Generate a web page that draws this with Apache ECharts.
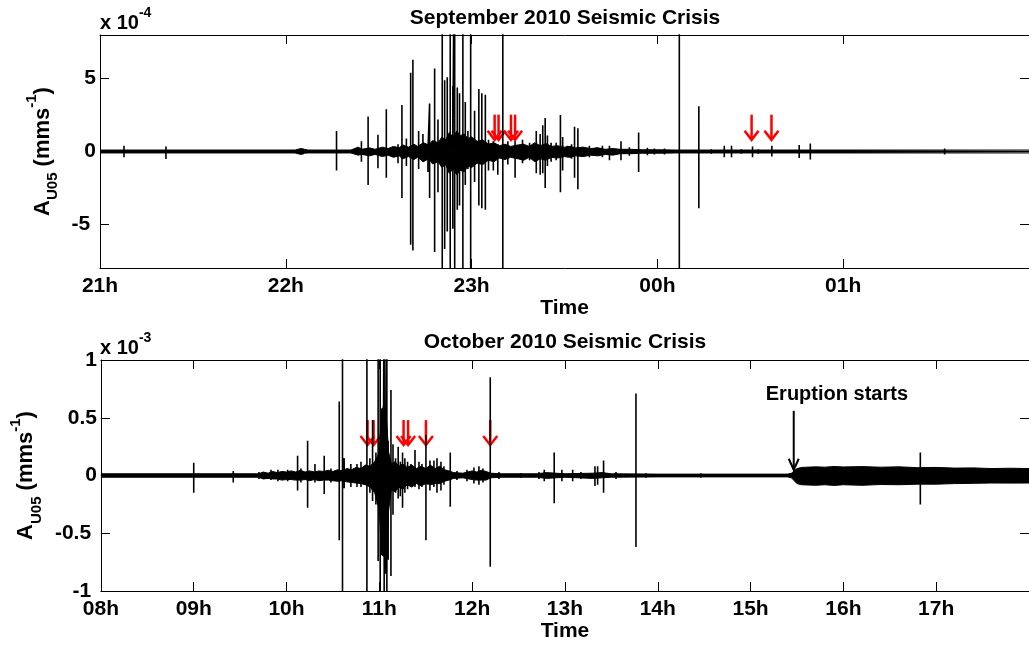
<!DOCTYPE html>
<html><head><meta charset="utf-8">
<script src="https://cdn.jsdelivr.net/npm/echarts@6/dist/echarts.min.js"></script>
<style>html,body{margin:0;padding:0;background:#fff}#c{width:1029px;height:647px}</style>
</head><body><div id="c"></div>
<script>
// ---------- September panel (values in x10^-4 mm/s, time in hours, 24 = 00h) ----------
const sepTickLabels = ['21h','22h','23h','00h','01h','02h'];
const sepT = [21.129,21.355,22.091,22.273,22.407,22.443,22.496,22.541,22.604,22.625,22.649,22.672,22.684,22.715,22.738,22.765,22.774,22.801,22.819,22.842,22.855,22.869,22.885,22.899,22.909,22.923,22.935,22.953,22.966,22.980,22.995,23.016,23.039,23.055,23.074,23.091,23.117,23.141,23.168,23.195,23.234,23.274,23.312,23.348,23.369,23.383,23.396,23.408,23.428,23.455,23.478,23.490,23.516,23.538,23.554,23.572,23.597,23.634,23.672,23.704,23.742,23.804,23.849,23.899,23.946,23.984,24.038,24.118,24.223,24.290,24.360,24.399,24.452,24.512,24.543,24.616,24.763,24.823,25.048,25.546];
const sepUp = [0.4,0.35,0.2,1.4,0.7,2.4,1.15,2.9,0.5,3.2,0.9,5.4,6.3,1.4,1.2,0.5,3.3,5.7,2.2,20,4.9,5.1,20,4.5,20,4.4,4.0,20,3.4,1.4,20,2.8,4.3,4.0,3.9,0.8,0.7,0.5,20,0.7,0.7,0.8,0.6,1.4,1.2,1.8,2.3,1.1,0.6,0.6,2.5,1.0,0.4,0.5,1.7,1.6,0.3,0.4,0.3,0.4,0.4,0.7,0.3,1.3,0.25,0.2,0.2,20,3.1,0.15,0.4,0.4,0.15,0.35,0.15,0.4,0.45,0.55,0.1,0.2];
const sepDown = [0.4,0.52,0.2,1.3,0.7,2.3,1.15,1.8,0.8,3.2,1.0,6.4,6.8,1.2,0.7,1.4,3.2,6.9,2.8,20,6.7,5.5,20,5.3,20,4.0,3.7,20,2.3,1.2,20,2.1,3.7,3.9,4.0,1.3,1.3,1.6,20,0.9,1.8,0.8,0.6,1.5,1.6,1.5,2.5,1.0,0.7,0.6,2.8,1.3,0.4,0.5,1.8,2.6,0.3,0.4,0.3,0.4,0.6,0.6,0.3,1.4,0.25,0.2,0.2,20,3.9,0.15,0.4,0.4,0.15,0.4,0.15,0.35,0.45,0.55,0.1,0.2];
const sepNoiseT = [21.0,22.05,22.08,22.10,22.12,22.35,22.39,22.41,22.45,22.48,22.52,22.55,22.58,22.61,22.63,22.66,22.69,22.71,22.74,22.77,22.79,22.82,22.84,22.86,22.88,22.90,22.92,22.94,22.96,22.98,23.00,23.03,23.06,23.09,23.12,23.15,23.18,23.21,23.25,23.28,23.31,23.34,23.37,23.40,23.43,23.46,23.50,23.53,23.56,23.60,23.64,23.68,23.72,23.76,23.80,23.86,23.92,24.00,24.10,24.50,26.0];
const sepNoiseUp = [0.1,0.1,0.2,0.15,0.1,0.1,0.3,0.15,0.25,0.15,0.3,0.2,0.35,0.25,0.45,0.3,0.5,0.35,0.6,0.45,0.75,0.6,1.0,0.8,1.3,1.0,1.4,1.1,1.2,0.9,1.0,0.7,0.8,0.5,0.6,0.4,0.5,0.35,0.45,0.5,0.35,0.6,0.4,0.55,0.35,0.4,0.3,0.35,0.25,0.3,0.2,0.25,0.15,0.2,0.15,0.15,0.12,0.12,0.1,0.1,0.1];
const sepNoiseDown = [0.1,0.1,0.2,0.12,0.1,0.1,0.25,0.2,0.3,0.2,0.35,0.25,0.4,0.3,0.5,0.35,0.55,0.4,0.7,0.5,0.85,0.7,1.1,0.9,1.5,1.2,1.6,1.3,1.4,1.0,1.1,0.8,0.9,0.6,0.7,0.45,0.55,0.4,0.5,0.6,0.4,0.7,0.5,0.6,0.4,0.45,0.35,0.4,0.3,0.35,0.25,0.3,0.2,0.25,0.15,0.15,0.12,0.12,0.1,0.1,0.1];
const sepArrowT = [23.124,23.145,23.212,23.234,24.507,24.614];
const sepArrowSpan = [2.53, 0.8];   // arrow tail, arrow tip

// ---------- October panel (values in x10^-3 mm/s) ----------
const octTickLabels = ['08h','09h','10h','11h','12h','13h','14h','15h','16h','17h','18h'];
const octT = [9.0,9.426,9.703,9.832,9.907,10.012,10.119,10.155,10.227,10.306,10.406,10.478,10.568,10.603,10.621,10.693,10.759,10.802,10.866,10.898,10.927,10.963,10.987,11.009,11.027,11.043,11.052,11.065,11.081,11.095,11.125,11.147,11.175,11.203,11.226,11.25,11.275,11.304,11.34,11.384,11.427,11.459,11.502,11.545,11.588,11.621,11.664,11.696,11.764,11.836,11.944,12.019,12.073,12.116,12.195,12.289,12.526,12.72,12.777,12.884,12.967,13.083,13.172,13.323,13.352,13.416,13.55,13.765,13.873,14.465,16.829];
const octUp = [0.11,0.04,0.03,0.05,0.05,0.05,0.17,0.06,0.30,0.10,0.17,0.06,0.64,2,0.15,0.1,0.1,0.12,2,0.15,0.48,0.2,2,2,0.58,0.6,2,0.58,2,0.3,0.74,0.27,0.15,0.25,0.12,0.2,0.15,0.12,0.1,0.22,0.12,0.1,0.35,0.13,0.13,0.15,0.12,0.08,0.2,0.04,0.05,0.07,0.08,0.06,0.85,0.03,0.02,0.03,0.05,0.2,0.05,0.05,0.03,0.08,0.08,0.13,0.03,0.71,0.02,0.02,0.2];
const octDown = [0.15,0.06,0.03,0.04,0.05,0.05,0.13,0.06,0.28,0.06,0.16,0.06,0.56,2,0.11,0.1,0.1,0.1,2,0.15,0.22,0.25,0.74,2,0.69,0.7,2,0.85,2,0.73,0.87,0.34,0.15,0.2,0.18,0.28,0.15,0.12,0.1,0.1,0.12,0.1,0.56,0.13,0.1,0.15,0.13,0.08,0.27,0.04,0.05,0.07,0.08,0.06,0.79,0.03,0.02,0.03,0.05,0.24,0.05,0.05,0.03,0.09,0.08,0.15,0.03,0.62,0.02,0.02,0.25];
const octNoiseT = [8.0,9.7,9.75,9.8,9.85,9.9,9.95,10.0,10.05,10.1,10.15,10.2,10.25,10.3,10.35,10.4,10.45,10.5,10.55,10.6,10.65,10.7,10.75,10.8,10.85,10.9,10.95,11.0,11.015,11.03,11.06,11.08,11.1,11.13,11.17,11.21,11.25,11.3,11.35,11.4,11.45,11.5,11.55,11.6,11.65,11.7,11.75,11.8,11.9,12.0,12.05,12.1,12.15,12.2,12.3,12.7,12.8,13.0,13.3,13.4,13.5,14.0,15.4,15.44,15.5,15.55,15.7,15.8,15.9,16.0,16.2,16.4,16.6,16.8,17.0,17.2,17.4,17.6,17.8,18.0];
const octNoiseUp = [0.015,0.015,0.03,0.02,0.035,0.025,0.035,0.03,0.04,0.03,0.045,0.03,0.04,0.03,0.04,0.035,0.045,0.035,0.05,0.04,0.06,0.05,0.07,0.06,0.09,0.08,0.12,0.2,0.45,0.58,0.58,0.45,0.2,0.1,0.12,0.08,0.1,0.07,0.09,0.06,0.08,0.06,0.09,0.06,0.08,0.05,0.04,0.025,0.02,0.04,0.03,0.045,0.035,0.02,0.015,0.015,0.025,0.015,0.02,0.025,0.015,0.012,0.012,0.02,0.06,0.07,0.075,0.072,0.078,0.074,0.077,0.072,0.075,0.068,0.07,0.064,0.066,0.06,0.063,0.06];
const octNoiseDown = [0.015,0.015,0.03,0.025,0.03,0.03,0.04,0.035,0.035,0.04,0.04,0.035,0.045,0.035,0.045,0.04,0.04,0.045,0.05,0.045,0.055,0.06,0.065,0.07,0.08,0.1,0.15,0.3,0.55,0.69,0.7,0.55,0.3,0.12,0.14,0.1,0.12,0.08,0.1,0.07,0.09,0.07,0.08,0.07,0.07,0.05,0.04,0.025,0.02,0.035,0.04,0.04,0.04,0.02,0.015,0.015,0.025,0.015,0.025,0.02,0.015,0.012,0.012,0.02,0.07,0.08,0.085,0.08,0.086,0.08,0.085,0.078,0.08,0.075,0.075,0.07,0.068,0.065,0.066,0.065];
const octArrowT = [10.873,10.938,11.261,11.310,11.502,12.195];
const octArrowSpan = [0.48, 0.264];
const eruptionArrow = [15.465, 0.56, 0.05];
const eruptionLabel = [15.93, 0.70, 'Eruption starts'];

// ---------- helpers ----------
const FONT = '"Liberation Sans", Arial, Helvetica, sans-serif';
function trace(t, up, dn, t0, t1) {
  const d = [[t0, 0]];
  for (let i = 0; i < t.length; i++) d.push([t[i], 0], [t[i], up[i]], [t[i], -dn[i]], [t[i], 0]);
  d.push([t1, 0]);
  return d;
}
const zip = (a, b, s) => a.map((v, i) => [v, s * b[i]]);
function arrowRender(color, lw, hw, hh) {
  return function (params, api) {
    const a = api.coord([api.value(0), api.value(1)]);
    const b = api.coord([api.value(0), api.value(2)]);
    return { type: 'group', children: [
      { type: 'line', shape: { x1: a[0], y1: a[1], x2: b[0], y2: b[1] }, style: { stroke: color, lineWidth: lw } },
      { type: 'polyline', shape: { points: [[b[0] - hw, b[1] - hh], [b[0], b[1]], [b[0] + hw, b[1] - hh]] }, style: { stroke: color, lineWidth: lw, fill: null } }
    ] };
  };
}
const lbl = { fontFamily: FONT, fontWeight: 'bold', fontSize: 21, color: '#000' };
const yName = '{a|A}{s|U05}{a| (mms}{p|-1}{a|)}';
const yNameStyle = { rich: {
  a: { fontFamily: FONT, fontWeight: 'bold', fontSize: 22, color: '#000', lineHeight: 36 },
  s: { fontFamily: FONT, fontWeight: 'bold', fontSize: 15, color: '#000', lineHeight: 15, verticalAlign: 'bottom' },
  p: { fontFamily: FONT, fontWeight: 'bold', fontSize: 15, color: '#000', lineHeight: 15, verticalAlign: 'top' }
} };
function xAx(grid, min, max, labels, pos, gap) {
  const o = { gridIndex: grid, type: 'value', min: min, max: max, interval: 1, position: pos,
    axisLine: { show: true, onZero: false, lineStyle: { color: '#000', width: 1 } },
    axisTick: { show: true, inside: true, length: 9, lineStyle: { color: '#000', width: 1 } },
    splitLine: { show: false } };
  if (pos === 'bottom') {
    o.axisLabel = Object.assign({ margin: 8, showMaxLabel: false, formatter: v => labels[Math.round(v - min)] }, lbl);
    o.name = 'Time'; o.nameLocation = 'middle'; o.nameGap = gap;
    o.nameTextStyle = Object.assign({}, lbl);
  } else {
    o.axisLabel = { show: false };
  }
  return o;
}
function yAx(grid, min, max, ticks, pos) {
  const o = { gridIndex: grid, type: 'value', min: min, max: max, position: pos,
    axisLine: { show: true, onZero: false, lineStyle: { color: '#000', width: 1 } },
    axisTick: { show: true, inside: true, length: 9, customValues: ticks, lineStyle: { color: '#000', width: 1 } },
    splitLine: { show: false } };
  if (pos === 'left') {
    o.axisLabel = Object.assign({ margin: 4, customValues: ticks, formatter: v => (v < 0 ? v + ' ' : '' + v) }, lbl);
    o.name = yName; o.nameLocation = 'middle'; o.nameRotate = 90; o.nameGap = 37;
    o.nameTextStyle = yNameStyle;
  } else {
    o.axisLabel = { show: false };
  }
  return o;
}
const titleStyle = { fontFamily: FONT, fontWeight: 'bold', fontSize: 21, fill: '#000' };
const expRich = {
  b: { fontFamily: FONT, fontWeight: 'bold', fontSize: 20, fill: '#000', lineHeight: 34 },
  s: { fontFamily: FONT, fontWeight: 'bold', fontSize: 14, fill: '#000', lineHeight: 14, verticalAlign: 'top' }
};

const chart = echarts.init(document.getElementById('c'), null, { renderer: 'canvas' });
chart.setOption({
  animation: false,
  backgroundColor: '#fff',
  grid: [
    { left: 100, top: 35, width: 930, height: 233 },
    { left: 100, top: 360, width: 930, height: 231 }
  ],
  xAxis: [
    xAx(0, 21, 26, sepTickLabels, 'bottom', 24), xAx(0, 21, 26, sepTickLabels, 'top'),
    xAx(1, 8, 18, octTickLabels, 'bottom', 28), xAx(1, 8, 18, octTickLabels, 'top')
  ],
  yAxis: [
    yAx(0, -8, 8, [-5, 0, 5], 'left'), yAx(0, -8, 8, [-5, 0, 5], 'right'),
    yAx(1, -1, 1, [-1, -0.5, 0, 0.5, 1], 'left'), yAx(1, -1, 1, [-1, -0.5, 0, 0.5, 1], 'right')
  ],
  graphic: [
    { type: 'text', x: 565, y: 18, style: Object.assign({ text: 'September 2010 Seismic Crisis', align: 'center', verticalAlign: 'middle' }, titleStyle) },
    { type: 'text', x: 565, y: 342, style: Object.assign({ text: 'October 2010 Seismic Crisis', align: 'center', verticalAlign: 'middle' }, titleStyle) },
    { type: 'text', x: 100, y: 6, style: { text: '{b|x 10}{s|-4}', rich: expRich } },
    { type: 'text', x: 100, y: 331, style: { text: '{b|x 10}{s|-3}', rich: expRich } }
  ],
  series: [
    { type: 'line', xAxisIndex: 0, yAxisIndex: 0, data: zip(sepNoiseT, sepNoiseUp, 1), symbol: 'none', silent: true,
      lineStyle: { color: '#000', width: 1 }, areaStyle: { color: '#000', opacity: 1 } },
    { type: 'line', xAxisIndex: 0, yAxisIndex: 0, data: zip(sepNoiseT, sepNoiseDown, -1), symbol: 'none', silent: true,
      lineStyle: { color: '#000', width: 1 }, areaStyle: { color: '#000', opacity: 1 } },
    { type: 'line', xAxisIndex: 0, yAxisIndex: 0, data: trace(sepT, sepUp, sepDown, 21, 26), symbol: 'none', silent: true,
      lineStyle: { color: '#000', width: 1.6 }, clip: true },
    { type: 'custom', xAxisIndex: 0, yAxisIndex: 0, silent: true, renderItem: arrowRender('#ff0000', 2.5, 7, 9),
      data: sepArrowT.map(t => [t, sepArrowSpan[0], sepArrowSpan[1]]) },

    { type: 'line', xAxisIndex: 2, yAxisIndex: 2, data: zip(octNoiseT, octNoiseUp, 1), symbol: 'none', silent: true,
      lineStyle: { color: '#000', width: 1 }, areaStyle: { color: '#000', opacity: 1 } },
    { type: 'line', xAxisIndex: 2, yAxisIndex: 2, data: zip(octNoiseT, octNoiseDown, -1), symbol: 'none', silent: true,
      lineStyle: { color: '#000', width: 1 }, areaStyle: { color: '#000', opacity: 1 } },
    { type: 'line', xAxisIndex: 2, yAxisIndex: 2, data: trace(octT, octUp, octDown, 8, 18), symbol: 'none', silent: true,
      lineStyle: { color: '#000', width: 1.6 }, clip: true },
    { type: 'custom', xAxisIndex: 2, yAxisIndex: 2, silent: true, renderItem: arrowRender('#ff0000', 2.5, 7, 9),
      data: octArrowT.map(t => [t, octArrowSpan[0], octArrowSpan[1]]) },
    { type: 'custom', xAxisIndex: 2, yAxisIndex: 2, silent: true, renderItem: arrowRender('#000', 2, 5, 11),
      data: [eruptionArrow] },
    { type: 'custom', xAxisIndex: 2, yAxisIndex: 2, silent: true,
      renderItem: function (params, api) {
        const p = api.coord([api.value(0), api.value(1)]);
        return { type: 'text', x: p[0], y: p[1], style: { text: eruptionLabel[2], align: 'center', verticalAlign: 'middle', fontFamily: FONT, fontWeight: 'bold', fontSize: 20, fill: '#000' } };
      },
      data: [[eruptionLabel[0], eruptionLabel[1]]] }
  ]
});
</script>
</body></html>
